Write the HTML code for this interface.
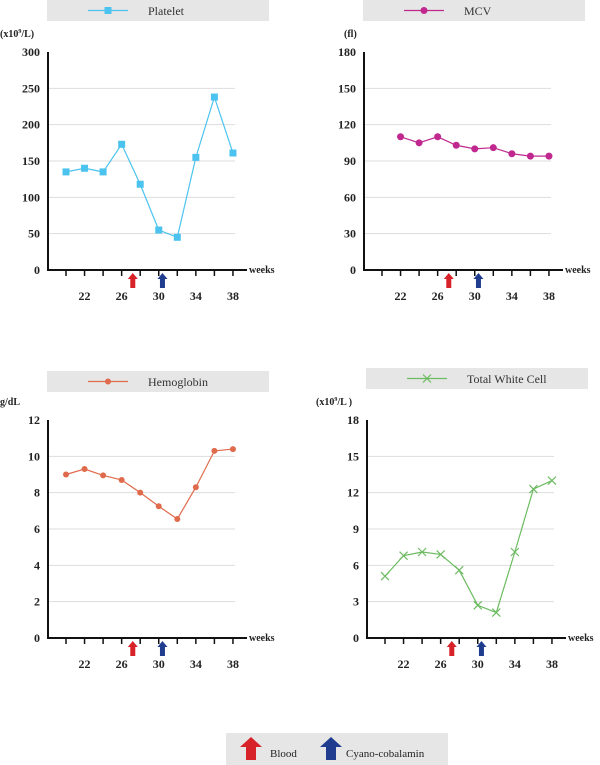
<!DOCTYPE html>
<html><head><meta charset="utf-8">
<style>
body{margin:0;background:#fff;width:600px;height:765px;overflow:hidden;font-family:"Liberation Serif",serif;}
svg{display:block}
</style></head><body>
<svg id="s" width="600" height="765" xmlns="http://www.w3.org/2000/svg"></svg>
<script>
const weeks=[20,22,24,26,28,30,32,34,36,38];
const tickLabels=[22,26,30,34,38];
const plateletVals=[135,140,135,173,118,55,45,155,238,161];
const mcvWeeks=[22,24,26,28,30,32,34,36,38];
const mcvVals=[110,105,110,103,100,101,96,94,94];
const hbVals=[9.0,9.3,8.95,8.7,8.0,7.25,6.55,8.3,10.3,10.4];
const wbcVals=[5.1,6.8,7.1,6.9,5.6,2.7,2.1,7.1,12.3,13.0];
const plateletTicks=[0,50,100,150,200,250,300];
const mcvTicks=[0,30,60,90,120,150,180];
const hbTicks=[0,2,4,6,8,10,12];
const wbcTicks=[0,3,6,9,12,15,18];
const bloodWeek=27.2, cobalWeek=30.4;

const NS="http://www.w3.org/2000/svg";
const svg=document.getElementById('s');
function mk(tag,attrs,parent){const e=document.createElementNS(NS,tag);for(const k in attrs)e.setAttribute(k,attrs[k]);(parent||svg).appendChild(e);return e;}
function arrow(g,x,y,color){
  const p=mk('path',{d:`M${x-5} ${y+6} L${x} ${y} L${x+5} ${y+6} L${x+2.5} ${y+6} L${x+2.5} ${y+15} L${x-2.5} ${y+15} L${x-2.5} ${y+6} Z`,fill:color},g);
  return p;
}
function chart(o){
  const g=mk('g',{});
  
  
  const ax=o.ax, top=o.top, bot=o.top+218;
  const ymax=o.ticks[o.ticks.length-1];
  const xs=w=>ax+18+(w-20)/2*18.55;
  const ys=v=>bot-(v/ymax)*(bot-top);
  // legend
  const lg=mk('g',{},g);
  
  
  mk('rect',{x:ax-1,y:o.ly,width:222,height:21,fill:'#e6e6e6'},lg);
  mk('line',{x1:ax+40,y1:o.ly+10.5,x2:ax+80,y2:o.ly+10.5,stroke:o.color,'stroke-width':1.2},lg);
  o.marker(lg,ax+60,o.ly+10.5);
  const lt=mk('text',{x:ax+100,y:o.ly+15,'font-size':12,fill:'#333'},lg);lt.textContent=o.label;
  // unit
  const ut=mk('text',{x:o.ux,y:top-15,'font-size':10,'font-weight':'bold',fill:'#222'},g);ut.innerHTML=o.unit;
  
  // grid + y labels
  o.ticks.forEach(t=>{
    const y=ys(t);
    if(t>0&&t<ymax){const l=mk('line',{x1:ax,y1:y,x2:ax+187,y2:y,stroke:'#ddd','stroke-width':1},g);}
    const tx=mk('text',{x:ax-8,y:y+4,'font-size':12,'font-weight':'bold','text-anchor':'end',fill:'#222'},g);tx.textContent=t;
    
  });
  mk('line',{x1:ax,y1:top,x2:ax,y2:bot+1,stroke:'#111','stroke-width':2},g);
  mk('line',{x1:ax-1,y1:bot,x2:ax+199,y2:bot,stroke:'#111','stroke-width':2},g);
  weeks.forEach(w=>{mk('line',{x1:xs(w),y1:bot,x2:xs(w),y2:bot+6,stroke:'#111','stroke-width':1.5},g);});
  tickLabels.forEach(w=>{const t=mk('text',{x:xs(w),y:bot+30,'font-size':12,'font-weight':'bold','text-anchor':'middle',fill:'#222'},g);t.textContent=w;
    });
  const wk=mk('text',{x:ax+201,y:bot+3,'font-size':10,'font-weight':'bold',fill:'#222'},g);wk.textContent='weeks';
  
  const a1=arrow(g,xs(bloodWeek),bot+3,'#d8222a');
  const a2=arrow(g,xs(cobalWeek),bot+3,'#1f3c8f');
  // series
  const pts=o.w.map((w,i)=>xs(w)+','+ys(o.v[i])).join(' ');
  const pl=mk('polyline',{points:pts,fill:'none',stroke:o.color,'stroke-width':1.2},g);
  
  o.w.forEach((w,i)=>{const m=o.marker(g,xs(w),ys(o.v[i]));});
}
const sq=c=>(g,x,y)=>mk('rect',{x:x-3.5,y:y-3.5,width:7,height:7,fill:c},g);
const dot=(c,r)=>(g,x,y)=>mk('circle',{cx:x,cy:y,r:r,fill:c},g);
const cross=c=>(g,x,y)=>mk('path',{d:`M${x-4} ${y-4}L${x+4} ${y+4}M${x+4} ${y-4}L${x-4} ${y+4}`,stroke:c,'stroke-width':1.2,fill:'none'},g);

chart({name:'platelet',ax:48,top:52,ly:0,ux:0,label:'Platelet',unit:'(x10<tspan font-size="6" dy="-4">9</tspan><tspan dy="4">/L)</tspan>',color:'#4cc3ee',ticks:plateletTicks,w:weeks,v:plateletVals,marker:sq('#4cc3ee')});
chart({name:'mcv',ax:364,top:52,ly:0,ux:344,label:'MCV',unit:'(fl)',color:'#c0288f',ticks:mcvTicks,w:mcvWeeks,v:mcvVals,marker:dot('#c0288f',3.5)});
chart({name:'hemoglobin',ax:48,top:420,ly:371,ux:0,label:'Hemoglobin',unit:'g/dL',color:'#e06a4c',ticks:hbTicks,w:weeks,v:hbVals,marker:dot('#e06a4c',3)});
chart({name:'wbc',ax:367,top:420,ly:368,ux:316,label:'Total White Cell',unit:'(x10<tspan font-size="6" dy="-4">9</tspan><tspan dy="4">/L )</tspan>',color:'#6dbb62',ticks:wbcTicks,w:weeks,v:wbcVals,marker:cross('#6dbb62')});

// bottom legend
const bl=mk('g',{});


mk('rect',{x:226,y:733,width:222,height:32,fill:'#e6e6e6'},bl);
const la=mk('path',{d:'M240 747 L251 737 L262 747 L256 747 L256 760 L246 760 L246 747 Z',fill:'#d8222a'},bl);
const t1=mk('text',{x:270,y:757,'font-size':11,fill:'#222'},bl);t1.textContent='Blood';
mk('path',{d:'M320 747 L331 737 L342 747 L336 747 L336 760 L326 760 L326 747 Z',fill:'#1f3c8f'},bl);
const t2=mk('text',{x:346,y:757,'font-size':11,fill:'#222'},bl);t2.textContent='Cyano-cobalamin';
</script>
</body></html>
